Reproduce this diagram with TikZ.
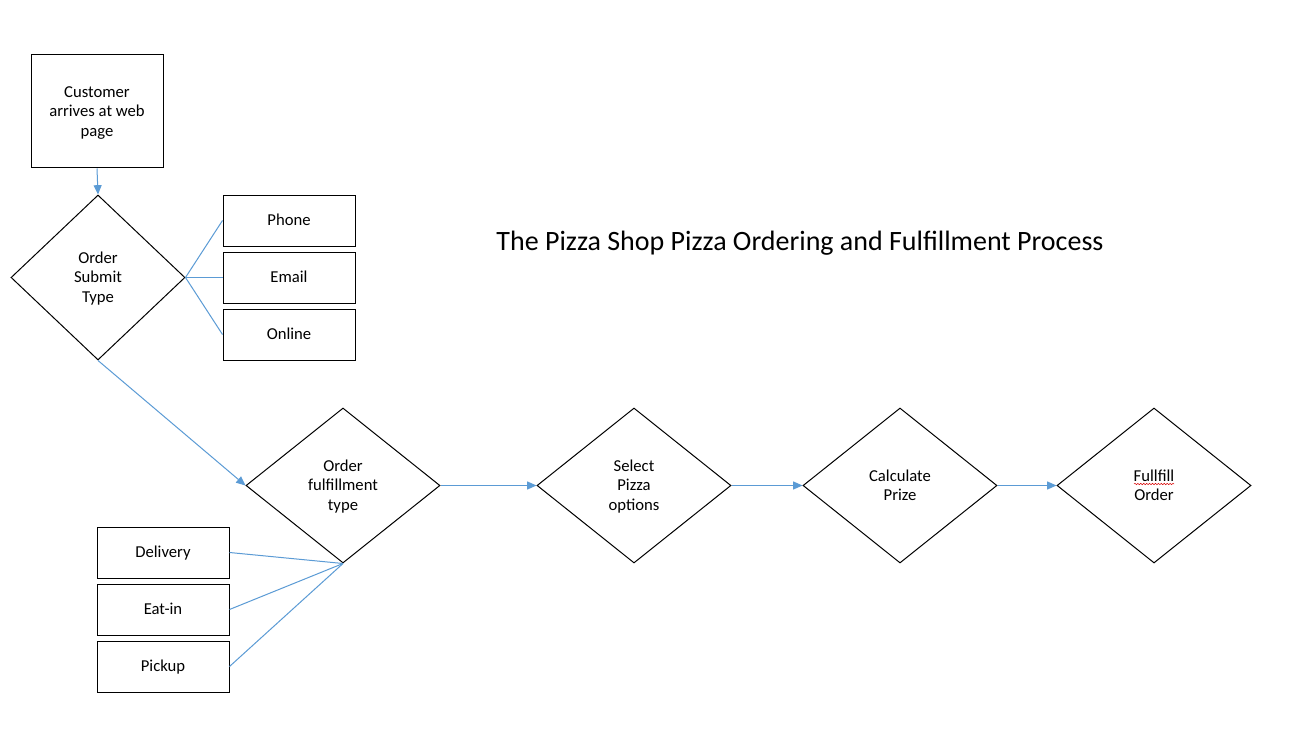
\documentclass[tikz,border=0pt]{standalone}
\usepackage{fontspec}
\setmainfont{Carlito}
\usetikzlibrary{shapes.geometric,arrows.meta,decorations.pathmorphing,calc}
\definecolor{lnblue}{HTML}{5B9BD5}
\begin{document}
\begin{tikzpicture}[x=0.75pt,y=-0.75pt,
  every node/.style={font=\fontsize{12.5}{14.6}\selectfont, align=center, text=black},
  one/.style={text height=10pt, text depth=2pt},
  two/.style={text height=24.6pt, text depth=2pt},
  three/.style={text height=39.2pt, text depth=2pt},
  boxnode/.style={one, draw=black, line width=0.75pt, rectangle, inner sep=0pt, minimum width=99pt, minimum height=38.25pt},
  startbox/.style={three, draw=black, line width=0.75pt, rectangle, inner sep=0pt, minimum width=99pt, minimum height=84.75pt},
  dia/.style={draw=black, line width=0.75pt, diamond, inner sep=0pt, minimum width=145.5pt, minimum height=116.25pt},
  link/.style={draw=lnblue, line width=0.75pt},
  flow/.style={draw=lnblue, line width=0.75pt, -{Triangle[length=7pt,width=6pt]}}
]
\useasboundingbox (0,0) rectangle (1295,731);
\fill[white] (0,0) rectangle (1295,731);

\node[startbox] (cust) at (97,111.5) {Customer\\arrives at web\\page};
\node[dia, three, minimum width=130.5pt, minimum height=123.75pt] (d1) at (98,277.5) {Order\\Submit\\Type};
\node[boxnode] (phone) at (289,220.5) {Phone};
\node[boxnode] (email) at (289,277.5) {Email};
\node[boxnode] (online) at (289,334.5) {Online};

\node[dia, three] (d2) at (343,485.5) {Order\\fulfillment\\type};
\node[boxnode] (deliv) at (163,552.5) {Delivery};
\node[boxnode] (eatin) at (163,609.5) {Eat-in};
\node[boxnode] (pickup) at (163,666.5) {Pickup};

\node[dia, three] (d3) at (634,485.5) {Select\\Pizza\\options};
\node[dia, two] (d4) at (900,485.5) {Calculate\\Prize};
\node[dia, two] (d5) at (1154,485.5) {Fullfill\\Order};

\node[font=\fontsize{21}{25}\selectfont, text height=16pt, text depth=4pt] (title) at (800,242) {The Pizza Shop Pizza Ordering and Fulfillment Process};

\draw[flow] (cust.south) -- (d1.north);
\draw[link] (d1.east) -- (phone.west);
\draw[link] (d1.east) -- (email.west);
\draw[link] (d1.east) -- (online.west);
\draw[flow] (d1.south) -- (d2.west);
\draw[link] (d2.south) -- (deliv.east);
\draw[link] (d2.south) -- (eatin.east);
\draw[link] (d2.south) -- (pickup.east);
\draw[flow] (d2.east) -- (d3.west);
\draw[flow] (d3.east) -- (d4.west);
\draw[flow] (d4.east) -- (d5.west);

\coordinate (sq1) at (1134,484);
\coordinate (sq2) at (1174,484);
\draw[red!85!black, line width=0.4pt, decorate, decoration={snake, amplitude=0.5pt, segment length=2.2pt}] (sq1) -- (sq2);
\end{tikzpicture}
\end{document}
